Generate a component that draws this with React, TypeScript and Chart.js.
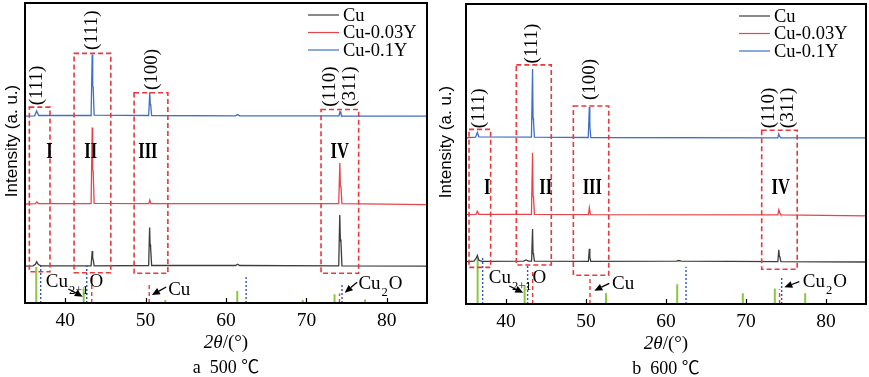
import React, { useEffect, useRef } from "react";
import { Chart, registerables } from "chart.js";

Chart.register(...registerables);

// ---------- shared ----------
const SERIES_LABELS = ["Cu", "Cu-0.03Y", "Cu-0.1Y"];
const SERIES_COLORS = ["#3d3d3d", "#e8444c", "#3f6fc6"];
const X_MIN = 35;
const X_MAX = 85;
const X_TICKS = [40, 50, 60, 70, 80];
const Y_MIN = 0;
const Y_MAX = 100;

// ---------- panel a: 500 ℃ patterns [2θ, intensity] ----------
const cu500 = [
  [35, 12.3], [36.0, 12.4], [36.3, 12.9], [36.45, 13.8], [36.65, 12.8], [37.0, 12.4],
  [43.22, 12.4], [43.36, 17.3], [43.42, 14.8], [43.48, 14.6], [43.6, 12.4],
  [50.38, 12.5], [50.5, 25.2], [50.56, 19.5], [50.62, 18.7], [50.75, 12.5],
  [61.2, 12.5], [61.45, 12.9], [61.7, 12.5],
  [74.02, 12.4], [74.15, 29.3], [74.22, 21.2], [74.3, 20.2], [74.42, 12.4], [85, 12.3],
];
const cu003Y500 = [
  [35, 33.0], [36.3, 33.1], [36.48, 33.7], [36.65, 33.1],
  [43.22, 33.1], [43.36, 58.5], [43.42, 44.5], [43.48, 44.0], [43.6, 33.2],
  [50.4, 33.1], [50.52, 34.3], [50.65, 33.1],
  [74.02, 33.1], [74.16, 46.7], [74.22, 39.0], [74.3, 38.6], [74.42, 33.1], [85, 32.8],
];
const cu01Y500 = [
  [35, 62.3], [36.2, 62.4], [36.45, 64.0], [36.7, 62.5],
  [43.22, 62.5], [43.36, 82.8], [43.42, 72.5], [43.48, 72.0], [43.6, 62.6],
  [50.38, 62.5], [50.52, 70.2], [50.58, 66.3], [50.64, 65.8], [50.75, 62.5],
  [61.2, 62.4], [61.45, 62.8], [61.7, 62.4],
  [74.05, 62.4], [74.18, 63.8], [74.3, 62.9], [74.42, 62.4], [85, 62.3],
];
// reference sticks (position, relative height)
const greenPos500 = [36.4, 42.3, 52.45, 61.4, 69.55, 73.5, 77.3];
const greenH500 = [12, 4.9, 1.0, 4.0, 1.0, 2.9, 1.2];
const bluePos500 = [36.95, 42.68, 62.5, 74.43];
const blueH500 = [12.7, 12.3, 9.3, 6.6];
const redPos500 = [43.3, 50.45, 74.12];
const redH500 = [9.3, 6.7, 3.2];

// ---------- panel b: 600 ℃ patterns ----------
const cu600 = [
  [35, 14.1], [36.0, 14.3], [36.3, 15.4], [36.42, 16.2], [36.6, 14.6], [37.0, 14.2],
  [42.2, 14.3], [42.5, 14.7], [42.8, 14.3],
  [43.2, 14.3], [43.32, 25.0], [43.38, 17.0], [43.44, 16.5], [43.55, 14.3],
  [50.3, 14.2], [50.42, 18.4], [50.48, 15.5], [50.6, 14.2],
  [61.3, 14.3], [61.6, 14.5], [61.9, 14.3],
  [73.98, 14.1], [74.1, 18.1], [74.17, 15.9], [74.24, 15.6], [74.36, 14.1], [85, 14.0],
];
const cu003Y600 = [
  [35, 29.8], [36.25, 29.9], [36.42, 30.9], [36.6, 29.9],
  [43.18, 29.9], [43.32, 50.4], [43.38, 36.0], [43.44, 35.5], [43.55, 29.9],
  [50.3, 29.8], [50.42, 32.1], [50.55, 29.8],
  [73.98, 29.7], [74.1, 31.4], [74.25, 30.2], [74.36, 29.7], [85, 29.4],
];
const cu01Y600 = [
  [35, 55.4], [36.2, 55.6], [36.42, 57.2], [36.6, 55.7],
  [43.18, 55.6], [43.32, 78.3], [43.38, 62.0], [43.44, 61.0], [43.55, 55.6],
  [50.28, 55.5], [50.42, 65.7], [50.48, 59.5], [50.6, 55.5],
  [73.98, 55.4], [74.1, 56.7], [74.22, 55.8], [74.36, 55.4], [85, 55.4],
];
const greenPos600 = [36.45, 42.33, 52.5, 61.4, 69.6, 73.6, 77.4];
const greenH600 = [15.5, 6.3, 3.6, 6.6, 3.6, 5.2, 3.6];
const bluePos600 = [37.08, 42.7, 62.5, 74.46];
const blueH600 = [15.3, 12.7, 12.4, 9.3];
const redPos600 = [43.33, 50.5, 74.2];
const redH600 = [11, 9, 4.9];

// ---------- annotations (data units) ----------
// boxes: [x1, x2, yTop, yBottom]
const boxes500 = [
  [35.54, 38.11, 65.3, 10.4],
  [41.1, 45.67, 83.2, 10.1],
  [48.57, 52.77, 70.1, 9.9],
  [71.82, 76.5, 64.5, 9.9],
];
const boxes600 = [
  [35.375, 38.08, 58.2, 12.2],
  [41.29, 45.66, 79.7, 13.0],
  [48.42, 52.84, 66.0, 9.6],
  [71.96, 76.4, 57.9, 11.6],
];
// hkl labels: [text, x, yBottom]
const hkl500: [string, number, number][] = [
  ["(111)", 36.46, 65.9], ["(111)", 43.31, 84.3], ["(100)", 50.78, 71.0],
  ["(110)", 72.98, 65.4], ["(311)", 75.47, 65.4],
];
const hkl600: [string, number, number][] = [
  ["(111)", 36.63, 58.6], ["(111)", 43.29, 80.2], ["(100)", 50.46, 68.0],
  ["(110)", 72.88, 58.6], ["(311)", 75.25, 58.6],
];
// region numerals: [text, x, y]
const roman500: [string, number, number][] = [
  ["I", 38.03, 50.4], ["II", 43.18, 50.4], ["III", 50.28, 50.4], ["IV", 74.14, 50.4],
];
const roman600: [string, number, number][] = [
  ["I", 37.66, 38.6], ["II", 44.96, 38.6], ["III", 50.79, 38.6], ["IV", 74.34, 38.6],
];
// phase labels: [main, sub, tail, x, yBaseline, arrowFromX, arrowFromY, arrowToX, arrowToY]
type Ann = [string, string, string, number, number, number, number, number, number];
const phase500: Ann[] = [
  ["Cu", "2+1", "O", 37.58, 5.3, 40.39, 4.67, 42.19, 2.1],
  ["Cu", "", "", 52.81, 2.7, 52.56, 5.33, 50.78, 2.67],
  ["Cu", "2", "O", 76.47, 4.7, 76.31, 6.9, 74.76, 3.43],
];
const phase600: Ann[] = [
  ["Cu", "2+1", "O", 37.84, 6.9, 40.41, 6.0, 42.16, 3.77],
  ["Cu", "", "", 53.25, 5.0, 52.91, 6.9, 51.04, 4.43],
  ["Cu", "2", "O", 77.09, 5.77, 76.66, 7.43, 74.79, 5.57],
];

// ---------- styles ----------
const GREEN = "#8dc63f";
const BLUE_REF = "#2a55c8";
const RED_REF = "#e8383d";
const BOX_RED = "#e8383d";
const SERIF = '"Liberation Serif", "Times New Roman", serif';
const SANS = '"Liberation Sans", Arial, sans-serif';

interface PanelCfg {
  key: string;
  width: number;
  padLeft: number;
  padRight: number;
  padTop: number;
  xAxisHeight: number;
  yTitleOffset: number;
  legendX: number;
  caption: string;
  series: number[][][];
  green: [number[], number[]];
  blue: [number[], number[]];
  red: [number[], number[]];
  boxes: number[][];
  hkl: [string, number, number][];
  roman: [string, number, number][];
  phase: Ann[];
}

const sticks = (pos: number[], h: number[]) =>
  pos.flatMap((p, i) => [
    { x: p, y: 0 },
    { x: p, y: h[i] },
    { x: p, y: null as any },
  ]);

function makeDecor(p: PanelCfg) {
  return {
    id: "decor" + p.key,
    afterDatasetsDraw(chart: any) {
      const { ctx, chartArea: ca, scales } = chart;
      const xs = scales.x;
      const ys = scales.y;
      const X = (v: number) => xs.getPixelForValue(v);
      const Y = (v: number) => ys.getPixelForValue(v);
      ctx.save();

      // dashed region boxes
      ctx.strokeStyle = BOX_RED;
      ctx.lineWidth = 1.6;
      ctx.setLineDash([5, 3]);
      p.boxes.forEach((b) => {
        ctx.strokeRect(X(b[0]), Y(b[2]), X(b[1]) - X(b[0]), Y(b[3]) - Y(b[2]));
      });
      ctx.setLineDash([]);

      // frame
      ctx.strokeStyle = "#000";
      ctx.lineWidth = 2;
      ctx.strokeRect(ca.left, ca.top, ca.right - ca.left, ca.bottom - ca.top);

      // inner ticks
      ctx.lineWidth = 1.2;
      xs.ticks.forEach((t: any) => {
        const px = Math.round(X(t.value)) + 0.5;
        ctx.beginPath();
        ctx.moveTo(px, ca.bottom);
        ctx.lineTo(px, ca.bottom - 5);
        ctx.stroke();
      });

      ctx.fillStyle = "#000";
      // hkl labels (rotated)
      ctx.font = `19px ${SERIF}`;
      ctx.textAlign = "left";
      ctx.textBaseline = "middle";
      p.hkl.forEach(([t, x, y]) => {
        ctx.save();
        ctx.translate(X(x), Y(y));
        ctx.rotate(-Math.PI / 2);
        ctx.fillText(t, 0, 0);
        ctx.restore();
      });

      // roman numerals
      ctx.textAlign = "center";
      ctx.font = `bold 23px ${SERIF}`;
      p.roman.forEach(([t, x, y]) => {
        ctx.save();
        ctx.translate(X(x), Y(y));
        ctx.scale(0.72, 1);
        ctx.fillText(t, 0, 0);
        ctx.restore();
      });

      // phase labels with arrows
      ctx.textAlign = "left";
      ctx.textBaseline = "alphabetic";
      p.phase.forEach(([main, sub, tail, x, y, fx, fy, tx, ty]) => {
        let cx = X(x);
        const by = Y(y);
        ctx.font = `19px ${SERIF}`;
        ctx.fillText(main, cx, by);
        cx += ctx.measureText(main).width + 1;
        if (sub) {
          ctx.font = `12.5px ${SERIF}`;
          ctx.fillText(sub, cx, by + 7);
          cx += ctx.measureText(sub).width + 1;
        }
        if (tail) {
          ctx.font = `19px ${SERIF}`;
          ctx.fillText(tail, cx, by);
        }
        const x1 = X(fx), y1 = Y(fy), x2 = X(tx), y2 = Y(ty);
        const ang = Math.atan2(y2 - y1, x2 - x1);
        const hl = 8, hw = 3.5;
        const bx = x2 - hl * Math.cos(ang), byy = y2 - hl * Math.sin(ang);
        ctx.strokeStyle = "#000";
        ctx.lineWidth = 1.3;
        ctx.beginPath();
        ctx.moveTo(x1, y1);
        ctx.lineTo(bx, byy);
        ctx.stroke();
        ctx.beginPath();
        ctx.moveTo(x2, y2);
        ctx.lineTo(bx + hw * Math.sin(ang), byy - hw * Math.cos(ang));
        ctx.lineTo(bx - hw * Math.sin(ang), byy + hw * Math.cos(ang));
        ctx.closePath();
        ctx.fill();
      });

      // legend
      ctx.font = `18.5px ${SERIF}`;
      ctx.textBaseline = "middle";
      chart.data.datasets.slice(0, 3).forEach((ds: any, i: number) => {
        const ly = ca.top + 12 + i * 17.5;
        ctx.strokeStyle = ds.borderColor;
        ctx.lineWidth = 1.2;
        ctx.beginPath();
        ctx.moveTo(p.legendX, ly);
        ctx.lineTo(p.legendX + 31, ly);
        ctx.stroke();
        ctx.fillStyle = "#000";
        ctx.fillText(ds.label, p.legendX + 35, ly + 1);
      });

      // y title
      ctx.save();
      ctx.translate(ca.left - p.yTitleOffset, ca.top + 138);
      ctx.rotate(-Math.PI / 2);
      ctx.font = `17px ${SANS}`;
      ctx.textAlign = "center";
      ctx.fillText("Intensity (a. u.)", 0, 0);
      ctx.restore();

      // x title: italic 2θ + /(°)
      const cxm = (ca.left + ca.right) / 2;
      ctx.textAlign = "left";
      ctx.font = `italic 19px ${SERIF}`;
      const w1 = ctx.measureText("2θ").width;
      ctx.font = `19px ${SERIF}`;
      const w2 = ctx.measureText("/(°)").width;
      const sx = cxm - (w1 + w2) / 2;
      ctx.font = `italic 19px ${SERIF}`;
      ctx.fillText("2θ", sx, ca.bottom + 40);
      ctx.font = `19px ${SERIF}`;
      ctx.fillText("/(°)", sx + w1, ca.bottom + 40);

      // caption
      ctx.textAlign = "center";
      ctx.font = `18px ${SERIF}, "Noto Sans CJK SC"`;
      ctx.fillText(p.caption, cxm, ca.bottom + 65);

      ctx.restore();
    },
  };
}

function buildConfig(p: PanelCfg): any {
  const datasets: any[] = p.series.map((s, i) => ({
    label: SERIES_LABELS[i],
    data: s.map(([x, y]) => ({ x, y })),
    borderColor: SERIES_COLORS[i],
    borderWidth: 1.3,
    pointRadius: 0,
    tension: 0,
  }));
  datasets.push({
    label: "ref-green",
    data: sticks(p.green[0], p.green[1]),
    borderColor: GREEN,
    borderWidth: 2,
    pointRadius: 0,
    spanGaps: false,
  });
  datasets.push({
    label: "ref-blue",
    data: sticks(p.blue[0], p.blue[1]),
    borderColor: BLUE_REF,
    borderWidth: 1.4,
    borderDash: [2, 2],
    pointRadius: 0,
    spanGaps: false,
  });
  datasets.push({
    label: "ref-red",
    data: sticks(p.red[0], p.red[1]),
    borderColor: RED_REF,
    borderWidth: 1.4,
    borderDash: [4, 3],
    pointRadius: 0,
    spanGaps: false,
  });
  return {
    type: "line",
    data: { datasets },
    options: {
      responsive: false,
      animation: false,
      devicePixelRatio: 1,
      events: [],
      layout: { padding: { left: p.padLeft, right: p.padRight, top: p.padTop, bottom: 0 } },
      plugins: { legend: { display: false }, tooltip: { enabled: false } },
      scales: {
        x: {
          type: "linear",
          min: X_MIN,
          max: X_MAX,
          afterFit: (s: any) => {
            s.height = p.xAxisHeight;
          },
          afterBuildTicks: (s: any) => {
            s.ticks = X_TICKS.map((v) => ({ value: v }));
          },
          grid: { display: false, drawTicks: false },
          border: { display: false },
          ticks: {
            color: "#000",
            font: { family: SERIF, size: 19.5 },
            padding: 6,
            maxRotation: 0,
            autoSkip: false,
          },
        },
        y: { type: "linear", min: Y_MIN, max: Y_MAX, display: false },
      },
    },
    plugins: [makeDecor(p)],
  };
}

const PANEL_A: PanelCfg = {
  key: "a",
  width: 434,
  padLeft: 25,
  padRight: 7,
  padTop: 3,
  xAxisHeight: 74,
  yTitleOffset: 13,
  legendX: 308,
  caption: "a  500 ℃",
  series: [cu500, cu003Y500, cu01Y500],
  green: [greenPos500, greenH500],
  blue: [bluePos500, blueH500],
  red: [redPos500, redH500],
  boxes: boxes500,
  hkl: hkl500,
  roman: roman500,
  phase: phase500,
};

const PANEL_B: PanelCfg = {
  key: "b",
  width: 435,
  padLeft: 32,
  padRight: 3,
  padTop: 4,
  xAxisHeight: 73,
  yTitleOffset: 20,
  legendX: 305,
  caption: "b  600 ℃",
  series: [cu600, cu003Y600, cu01Y600],
  green: [greenPos600, greenH600],
  blue: [bluePos600, blueH600],
  red: [redPos600, redH600],
  boxes: boxes600,
  hkl: hkl600,
  roman: roman600,
  phase: phase600,
};

function PanelChart({ cfg, left }: { cfg: PanelCfg; left: number }) {
  const ref = useRef<HTMLCanvasElement>(null);
  useEffect(() => {
    const chart = new Chart(ref.current as HTMLCanvasElement, buildConfig(cfg));
    return () => chart.destroy();
  }, [cfg]);
  return (
    <canvas
      ref={ref}
      width={cfg.width}
      height={377}
      style={{ position: "absolute", left, top: 0, width: cfg.width, height: 377 }}
    />
  );
}

export default function App() {
  return (
    <div
      style={{
        position: "fixed",
        left: 0,
        top: 0,
        width: 869,
        height: 377,
        background: "#fff",
        overflow: "hidden",
      }}
    >
      <PanelChart cfg={PANEL_A} left={0} />
      <PanelChart cfg={PANEL_B} left={434} />
    </div>
  );
}
